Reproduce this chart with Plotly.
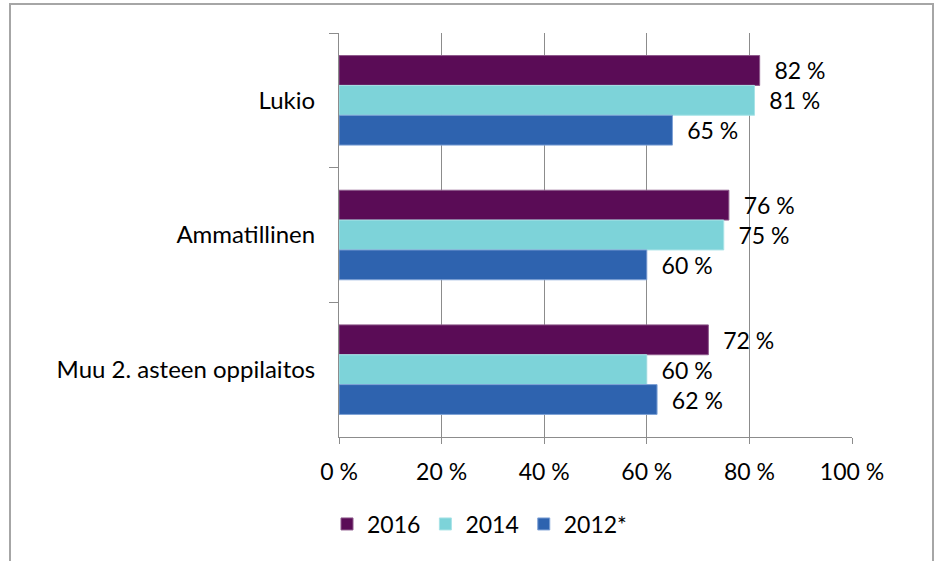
import plotly.graph_objects as go

categories = ["Lukio", "Ammatillinen", "Muu 2. asteen oppilaitos"]
series_names = ["2016", "2014", "2012*"]
values_2016 = [82, 76, 72]
values_2014 = [81, 75, 60]
values_2012 = [65, 60, 62]
colors = ["#5A0C56", "#7DD3D9", "#2E63AF"]
edge_colors = ["#8E5A8B", "#A8E3E7", "#7FA2D6"]
x_ticks = [0, 20, 40, 60, 80, 100]
x_tick_labels = [f"{t} %" for t in x_ticks]

FONT = "Lato"
fig = go.Figure()
for name, vals, col, ec in zip(series_names, [values_2016, values_2014, values_2012], colors, edge_colors):
    fig.add_trace(go.Bar(
        y=categories, x=vals, name=name, orientation="h",
        marker=dict(color=col, line=dict(color=ec, width=1)),
        text=[f"{v} %" for v in vals], texttemplate="  %{text}", textposition="outside",
        textfont=dict(family=FONT, size=23, color="#000000"),
        cliponaxis=False, hoverinfo="skip",
    ))

W, H = 936, 561
L, R, T, B = 339, 852, 33, 437
pw, ph = R - L, B - T

def px(x):
    return (x - L) / pw

def py(y):
    return (B - y) / ph

fig.update_layout(
    width=W, height=H,
    margin=dict(l=L, r=W - R, t=T, b=H - B, autoexpand=False),
    barmode="group", bargap=0.335, bargroupgap=0,
    plot_bgcolor="white", paper_bgcolor="white",
    font=dict(family=FONT, size=23, color="#000000"),
    showlegend=True,
    legend=dict(orientation="h", x=px(327), y=py(524), xanchor="left", yanchor="middle",
                font=dict(family=FONT, size=23), tracegroupgap=0,
                bgcolor="rgba(0,0,0,0)"),
    xaxis=dict(range=[0, 100], tickvals=x_ticks, ticktext=x_tick_labels,
               showgrid=True, gridcolor="#8C8C8C", gridwidth=1,
               showline=True, linecolor="#8C8C8C", linewidth=1,
               ticks="outside", ticklen=6, tickcolor="#8C8C8C",
               ticklabelstandoff=8, zeroline=False, fixedrange=True,
               tickfont=dict(family=FONT, size=23)),
    yaxis=dict(autorange="reversed", showline=True, linecolor="#8C8C8C", linewidth=1,
               ticks="outside", ticklen=9, tickcolor="#8C8C8C", tickson="boundaries",
               ticklabelstandoff=18, showgrid=False, fixedrange=True,
               tickfont=dict(family=FONT, size=24)),
    shapes=[dict(type="rect", xref="paper", yref="paper",
                 x0=px(10), x1=px(933), y0=py(4), y1=py(600),
                 line=dict(color="#A6A6A6", width=2), fillcolor="rgba(0,0,0,0)", layer="below")],
)

fig.write_html("out.html", config={"displayModeBar": False},
               post_script="document.body.style.margin='0px';")
